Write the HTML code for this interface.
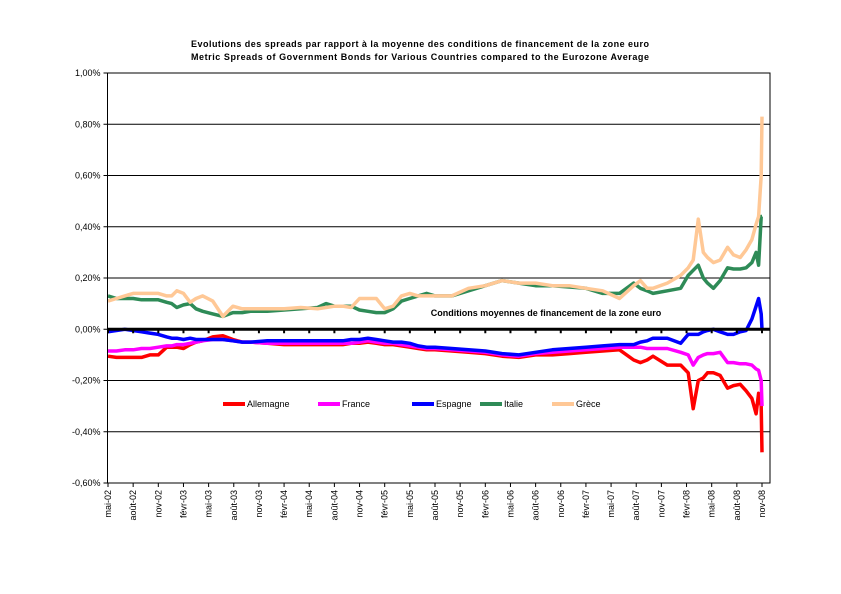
<!DOCTYPE html>
<html><head><meta charset="utf-8"><style>
body{margin:0;background:#fff;}
svg{display:block;font-family:"Liberation Sans",Arial,sans-serif;}
</style></head><body>
<svg id="chart" width="841" height="594" viewBox="0 0 841 594">
<text x="420" y="47" text-anchor="middle" font-size="9" font-weight="bold" textLength="458">Evolutions des spreads par rapport à la moyenne des conditions de financement de la zone euro</text>
<text x="420" y="60" text-anchor="middle" font-size="9" font-weight="bold" textLength="458">Metric Spreads of Government Bonds for Various Countries compared to the Eurozone Average</text>
<g id="grid"></g>
<g id="series"></g>
<g id="axes"></g>
<text x="546" y="316" text-anchor="middle" font-size="9" font-weight="bold">Conditions moyennes de financement de la zone euro</text>
<g id="legend"></g>
</svg>
<script>
const yTicks=[1.0,0.8,0.6,0.4,0.2,0.0,-0.2,-0.4,-0.6];
const yTickLabels=["1,00%","0,80%","0,60%","0,40%","0,20%","0,00%","-0,20%","-0,40%","-0,60%"];
const xLabels=["mai-02","août-02","nov-02","févr-03","mai-03","août-03","nov-03","févr-04","mai-04","août-04","nov-04","févr-05","mai-05","août-05","nov-05","févr-06","mai-06","août-06","nov-06","févr-07","mai-07","août-07","nov-07","févr-08","mai-08","août-08","nov-08"];
const seriesNames=["Allemagne","France","Espagne","Italie","Grèce"];
const seriesColors=["#ff0000","#ff00ff","#0000ff","#2e8b57","#ffc896"];
// month index since mai-02
const dates=[0,1,2,3,4,5,6,7,7.6,8.2,9,9.8,10.5,11.3,12.5,13.7,14.9,16,17,19,21,23,25,26,27,28,29,30,31,32,33,34,35,36,37,38,39,41,43,45,47,49,51,53,55,57,59,61,62.7,63.5,64.3,65,66.7,68.3,69.2,69.8,70.4,71,71.5,72.2,73,73.9,74.6,75.4,76.1,76.8,77.3,77.6,77.9,78];
const allemagne=[-0.105,-0.11,-0.11,-0.11,-0.11,-0.1,-0.1,-0.07,-0.07,-0.07,-0.075,-0.06,-0.05,-0.045,-0.03,-0.025,-0.04,-0.05,-0.05,-0.055,-0.06,-0.06,-0.06,-0.06,-0.06,-0.06,-0.055,-0.055,-0.05,-0.055,-0.06,-0.06,-0.065,-0.07,-0.075,-0.08,-0.08,-0.085,-0.09,-0.095,-0.105,-0.11,-0.1,-0.1,-0.095,-0.09,-0.085,-0.08,-0.12,-0.13,-0.12,-0.105,-0.14,-0.14,-0.17,-0.31,-0.2,-0.19,-0.17,-0.17,-0.18,-0.23,-0.22,-0.215,-0.24,-0.27,-0.33,-0.25,-0.3,-0.48];
const france=[-0.085,-0.085,-0.08,-0.08,-0.075,-0.075,-0.07,-0.065,-0.065,-0.06,-0.06,-0.055,-0.05,-0.045,-0.04,-0.04,-0.045,-0.05,-0.05,-0.055,-0.055,-0.055,-0.055,-0.055,-0.055,-0.055,-0.055,-0.05,-0.045,-0.05,-0.055,-0.055,-0.06,-0.065,-0.07,-0.075,-0.075,-0.08,-0.085,-0.09,-0.1,-0.105,-0.095,-0.09,-0.085,-0.08,-0.075,-0.07,-0.07,-0.07,-0.075,-0.075,-0.075,-0.09,-0.1,-0.14,-0.11,-0.1,-0.095,-0.095,-0.09,-0.13,-0.13,-0.135,-0.135,-0.14,-0.155,-0.16,-0.2,-0.3];
const espagne=[-0.01,-0.005,0.0,-0.005,-0.01,-0.015,-0.02,-0.03,-0.035,-0.035,-0.04,-0.035,-0.04,-0.04,-0.04,-0.04,-0.045,-0.05,-0.05,-0.045,-0.045,-0.045,-0.045,-0.045,-0.045,-0.045,-0.04,-0.04,-0.035,-0.04,-0.045,-0.05,-0.05,-0.055,-0.065,-0.07,-0.07,-0.075,-0.08,-0.085,-0.095,-0.1,-0.09,-0.08,-0.075,-0.07,-0.065,-0.06,-0.06,-0.05,-0.045,-0.035,-0.035,-0.055,-0.02,-0.02,-0.02,-0.01,-0.005,0.0,-0.01,-0.02,-0.02,-0.01,-0.005,0.04,0.09,0.12,0.06,0.0];
const italie=[0.13,0.12,0.12,0.12,0.115,0.115,0.115,0.105,0.1,0.085,0.095,0.1,0.08,0.07,0.06,0.05,0.065,0.065,0.07,0.07,0.075,0.08,0.085,0.1,0.09,0.09,0.09,0.075,0.07,0.065,0.065,0.08,0.11,0.12,0.13,0.14,0.13,0.13,0.15,0.17,0.19,0.18,0.17,0.17,0.165,0.16,0.14,0.14,0.18,0.16,0.15,0.14,0.15,0.16,0.21,0.23,0.25,0.2,0.18,0.16,0.19,0.24,0.235,0.235,0.24,0.26,0.3,0.25,0.44,0.44];
const grece=[0.11,0.12,0.13,0.14,0.14,0.14,0.14,0.13,0.13,0.15,0.14,0.105,0.12,0.13,0.11,0.05,0.09,0.08,0.08,0.08,0.08,0.085,0.08,0.085,0.09,0.09,0.085,0.12,0.12,0.12,0.08,0.09,0.13,0.14,0.13,0.13,0.13,0.13,0.16,0.17,0.19,0.18,0.18,0.17,0.17,0.16,0.15,0.12,0.17,0.19,0.16,0.16,0.18,0.21,0.24,0.27,0.43,0.3,0.28,0.26,0.27,0.32,0.29,0.28,0.31,0.35,0.41,0.44,0.6,0.83];
const seriesData=[allemagne,france,espagne,italie,grece];

const NS="http://www.w3.org/2000/svg";
const L=107.5,R=770,T=73,B=483;
const yMin=-0.6,yMax=1.0;
function yScale(v){return B-(v-yMin)/(yMax-yMin)*(B-T);}
const m0=108,m1=762,mMax=78;
function xScale(m){return m0+m/mMax*(m1-m0);}
function mk(tag,attrs,parent){const e=document.createElementNS(NS,tag);for(const k in attrs)e.setAttribute(k,attrs[k]);parent.appendChild(e);return e;}
const grid=document.getElementById('grid'),axes=document.getElementById('axes'),ser=document.getElementById('series'),leg=document.getElementById('legend');
mk('rect',{x:L,y:T,width:R-L,height:B-T,fill:'none',stroke:'#000','stroke-width':1},axes);
yTicks.forEach((v,i)=>{
  const y=yScale(v);
  if(v!==0&&v!==yMin&&v!==yMax){const g=mk('line',{x1:L,x2:R,y1:y,y2:y,stroke:'#000','stroke-width':1},grid);
  
  }
  mk('line',{x1:L-4,x2:L,y1:y,y2:y,stroke:'#000'},axes);
  const t=mk('text',{x:L-7,y:y+3,'text-anchor':'end','font-size':9},axes);
  t.textContent=yTickLabels[i];
  
  
});
xLabels.forEach((lab,i)=>{
  const x=xScale(i*3);
  mk('line',{x1:x,x2:x,y1:B,y2:B+4,stroke:'#000'},axes);
  const tk=mk('line',{x1:x,x2:x,y1:yScale(0),y2:yScale(0)+4,stroke:'#000','stroke-width':2},axes);
  
  
  const t=mk('text',{x:0,y:0,'text-anchor':'end','font-size':9,transform:`translate(${x+3},${B+7}) rotate(-90)`},axes);
  t.textContent=lab;
  
  
});
seriesData.forEach((arr,s)=>{
  const d=arr.map((v,i)=>(i?'L':'M')+xScale(dates[i]).toFixed(1)+','+yScale(v).toFixed(1)).join(' ');
  const p=mk('path',{d:d,fill:'none',stroke:seriesColors[s],'stroke-width':3.5,'stroke-linejoin':'round'},ser);
  
  
});
const zl=mk('line',{x1:L,x2:R,y1:yScale(0),y2:yScale(0),stroke:'#000','stroke-width':3},axes);


const legX=[223,318,412,480,552];
seriesNames.forEach((n,s)=>{
  const g=mk('g',{},leg);
  
  
  mk('line',{x1:legX[s],x2:legX[s]+22,y1:404,y2:404,stroke:seriesColors[s],'stroke-width':4},g);
  const t=mk('text',{x:legX[s]+24,y:407,'font-size':9},g);
  t.textContent=n;
});
</script>
</body></html>
